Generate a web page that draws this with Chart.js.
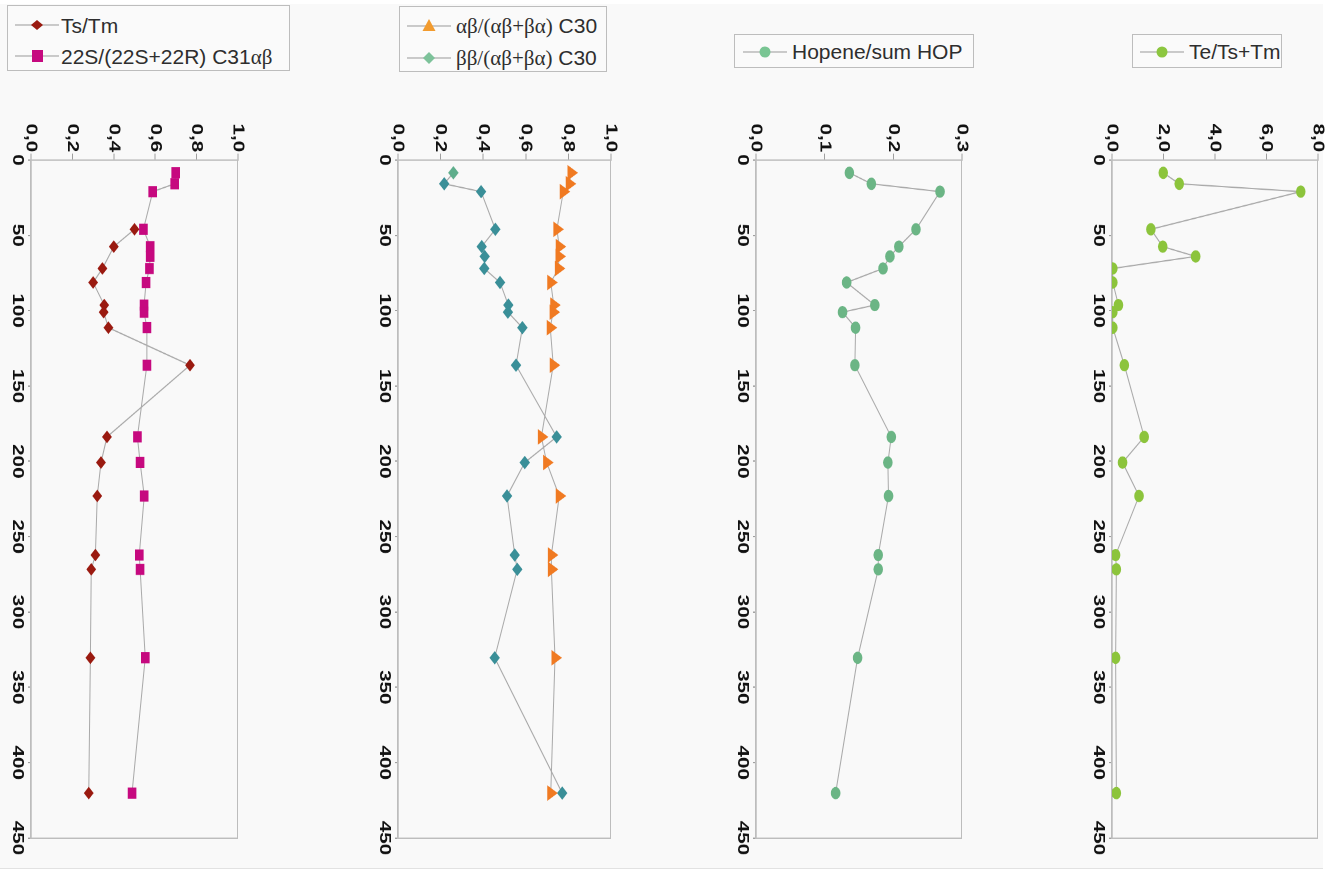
<!DOCTYPE html>
<html>
<head>
<meta charset="utf-8">
<script src="https://cdn.jsdelivr.net/npm/chart.js@4/dist/chart.umd.min.js"></script>
<style>
  html, body { margin: 0; padding: 0; background: #ffffff; }
  body { width: 1341px; height: 875px; position: relative; overflow: hidden; font-family: "Liberation Sans", Arial, sans-serif; }
  #bg { position: absolute; left: 0; top: 4px; width: 1323px; height: 864px; background: #f9f9f9; border-bottom: 1px solid #e2e2e2; }
  .wrap { position: absolute; transform-origin: 0 0; }
  .legend { position: absolute; border: 1px solid #bdbdbd; background: #fafafa; box-sizing: border-box; }
  .legend svg { position: absolute; }
  .legend span { position: absolute; font-size: 21px; line-height: 24px; color: #2e2e2e; white-space: nowrap; }
  .gr { font-family: "Liberation Serif", "Times New Roman", serif; }
</style>
</head>
<body>
<div id="bg"></div>

<!-- legends -->
<div class="legend" style="left:7px;top:5px;width:283px;height:66px;">
  <svg style="left:7px;top:9px" width="44" height="20"><line x1="0" y1="10" x2="44" y2="10" stroke="#999" stroke-width="1"/><polygon points="22,5 28,10 22,15 16,10" fill="#9a1a10"/></svg>
  <span style="left:53px;top:8px">Ts/Tm</span>
  <svg style="left:7px;top:40px" width="44" height="20"><line x1="0" y1="10" x2="44" y2="10" stroke="#999" stroke-width="1"/><rect x="17" y="4" width="11" height="12" fill="#c6097f"/></svg>
  <span style="left:53px;top:39px">22S/(22S+22R) C31<span class="gr" style="position:static">αβ</span></span>
</div>

<div class="legend" style="left:399px;top:6px;width:208px;height:66px;">
  <svg style="left:7px;top:9px" width="44" height="20"><line x1="0" y1="10" x2="44" y2="10" stroke="#999" stroke-width="1"/><polygon points="22,3 28.5,15 15.5,15" fill="#f29b2e"/></svg>
  <span style="left:56px;top:7px"><span class="gr" style="position:static">αβ/(αβ+βα)</span> C30</span>
  <svg style="left:7px;top:41px" width="44" height="20"><line x1="0" y1="10" x2="44" y2="10" stroke="#999" stroke-width="1"/><polygon points="22,4 28,10 22,16 16,10" fill="#7dc29a"/></svg>
  <span style="left:56px;top:39px"><span class="gr" style="position:static">ββ/(αβ+βα)</span> C30</span>
</div>

<div class="legend" style="left:734px;top:34px;width:240px;height:34px;">
  <svg style="left:8px;top:7px" width="44" height="20"><line x1="0" y1="10" x2="44" y2="10" stroke="#999" stroke-width="1"/><circle cx="22" cy="10" r="5.5" fill="#79c593"/></svg>
  <span style="left:57px;top:5px">Hopene/sum HOP</span>
</div>

<div class="legend" style="left:1132px;top:34px;width:150px;height:34px;">
  <svg style="left:7px;top:7px" width="44" height="20"><line x1="0" y1="10" x2="44" y2="10" stroke="#999" stroke-width="1"/><circle cx="22" cy="10" r="5.5" fill="#8cc63f"/></svg>
  <span style="left:56px;top:5px">Te/Ts+Tm</span>
</div>

<div class="wrap" id="w0"><canvas id="c0"></canvas></div>
<div class="wrap" id="w1"><canvas id="c1"></canvas></div>
<div class="wrap" id="w2"><canvas id="c2"></canvas></div>
<div class="wrap" id="w3"><canvas id="c3"></canvas></div>

<script>
// ---- data (depth in cm) ----
const depth = [8.5, 15.8, 21, 46, 57.5, 64, 72, 81.3, 96.3, 101, 111.3, 136.2, 183.8, 200.8, 223, 262.2, 271.7, 330.4, 420.2];

const tsTm   = [null, null, null, 0.50, 0.40, null, 0.345, 0.30, 0.354, 0.351, 0.374, 0.768, 0.367, 0.338, 0.32, 0.311, 0.291, 0.287, 0.279];
const c31S   = [0.699, 0.694, 0.588, 0.543, 0.576, 0.576, 0.572, 0.556, 0.546, 0.546, 0.56, 0.56, 0.514, 0.527, 0.547, 0.523, 0.527, 0.552, 0.488];
const abC30  = [0.812, 0.804, 0.776, 0.746, 0.757, 0.756, 0.753, 0.717, 0.731, 0.728, 0.715, 0.729, 0.673, 0.698, 0.757, 0.72, 0.72, 0.737, 0.717];
const bbC30  = [0.26, 0.217, 0.39, 0.457, 0.393, 0.407, 0.405, 0.479, 0.518, 0.516, 0.584, 0.554, 0.745, 0.595, 0.512, 0.548, 0.56, 0.454, 0.771];
const hopene = [0.136, 0.168, 0.268, 0.233, 0.208, 0.195, 0.185, 0.132, 0.173, 0.126, 0.145, 0.144, 0.197, 0.192, 0.193, 0.178, 0.178, 0.148, 0.116];
const teTsTm = [1.99, 2.61, 7.33, 1.51, 1.97, 3.25, 0.03, 0.03, 0.25, 0.03, 0.03, 0.48, 1.25, 0.41, 1.05, 0.14, 0.17, 0.14, 0.17];

// ---- tick labels ----
const depthTicks = [0, 50, 100, 150, 200, 250, 300, 350, 400, 450];
const ratioTicks = [0, 0.2, 0.4, 0.6, 0.8, 1.0];
const hopTicks   = [0, 0.1, 0.2, 0.3];
const teTicks    = [0, 2, 4, 6, 8];

function pts(vals) {
  return depth.map((d, i) => ({ x: d, y: vals[i] })).filter(p => p.y !== null);
}
const fmt = v => Number(v).toFixed(1).replace('.', ',');

const frame = {
  id: 'frame',
  beforeDatasetsDraw(chart) {
    const { ctx, chartArea: a } = chart;
    ctx.save();
    ctx.strokeStyle = '#bdbdbd';
    ctx.lineWidth = 1;
    ctx.strokeRect(Math.round(a.left) + 0.5, Math.round(a.top) + 0.5, Math.round(a.right - a.left), Math.round(a.bottom - a.top));
    ctx.restore();
  }
};

const W = 600, TOP = 100, S = 775 / 600;
const yW = 60 / S, padR = W - 738 / S;

function ds(label, vals, color, style, radius, extra) {
  return Object.assign({
    label, data: pts(vals), showLine: true,
    borderColor: '#a9a9a9', borderWidth: 1,
    pointStyle: style, pointRadius: radius, pointHoverRadius: radius,
    pointBackgroundColor: color, pointBorderColor: color, pointBorderWidth: 1
  }, extra || {});
}

const panels = [
  { L: 0, H: 250, xH: 31, top: 12, max: 1, ticks: ratioTicks,
    datasets: [ds('Ts/Tm', tsTm, '#9a1a10', 'rectRot', 4.2),
               ds('22S/(22S+22R) C31αβ', c31S, '#c6097f', 'rect', 5.4)] },
  { L: 360, H: 260, xH: 38, top: 9, max: 1, ticks: ratioTicks,
    datasets: [ds('αβ/(αβ+βα) C30', abC30, '#f07a22', 'triangle', 6),
               ds('ββ/(αβ+βα) C30', bbC30, '#3a8f98', 'rectRot', 4.5,
                  { pointBackgroundColor: depth.map((d, i) => i === 0 ? '#5fae8c' : '#3a8f98'),
                    pointBorderColor: depth.map((d, i) => i === 0 ? '#5fae8c' : '#3a8f98') })] },
  { L: 720, H: 255, xH: 36, top: 13, max: 0.3, ticks: hopTicks,
    datasets: [ds('Hopene/sum HOP', hopene, '#6bb585', 'circle', 4.3)] },
  { L: 1075, H: 260, xH: 37, top: 17, max: 8, ticks: teTicks,
    datasets: [ds('Te/Ts+Tm', teTsTm, '#8cc43c', 'circle', 4.3)] }
];

const tickFont = { family: '"Liberation Sans", Arial, sans-serif', size: 16, weight: 'bold' };

panels.forEach((p, i) => {
  const w = document.getElementById('w' + i);
  w.style.left = p.L + 'px';
  w.style.top = TOP + 'px';
  w.style.width = W + 'px';
  w.style.height = p.H + 'px';
  w.style.transform = `translate(${p.H}px,0) rotate(90deg) scale(${S},1)`;
  const c = document.getElementById('c' + i);
  c.width = W; c.height = p.H;
  c.style.width = W + 'px'; c.style.height = p.H + 'px';

  new Chart(c, {
    type: 'scatter',
    data: { datasets: p.datasets },
    options: {
      responsive: false,
      devicePixelRatio: 2,
      animation: false,
      events: [],
      layout: { padding: { left: 0, right: padR, top: p.top, bottom: 0 } },
      plugins: { legend: { display: false }, tooltip: { enabled: false } },
      scales: {
        x: {
          type: 'linear', position: 'bottom', min: 0, max: 450,
          afterBuildTicks: s => { s.ticks = depthTicks.map(v => ({ value: v })); },
          afterFit: s => { s.height = p.xH; s.paddingLeft = 0; s.paddingRight = 0; },
          ticks: { font: tickFont, color: '#111', padding: 1, maxRotation: 0, minRotation: 0, autoSkip: false,
                   callback: v => String(v) },
          grid: { display: true, drawOnChartArea: false, drawTicks: true, tickLength: 3, color: '#a0a0a0' },
          border: { display: true, color: '#a0a0a0' }
        },
        y: {
          type: 'linear', position: 'left', min: 0, max: p.max,
          afterBuildTicks: s => { s.ticks = p.ticks.map(v => ({ value: v })); },
          afterFit: s => { s.width = yW; s.paddingTop = 0; s.paddingBottom = 0; },
          ticks: { font: tickFont, color: '#111', padding: 1, autoSkip: false, callback: v => fmt(v) },
          grid: { display: true, drawOnChartArea: false, drawTicks: true, tickLength: 5, color: '#a0a0a0' },
          border: { display: true, color: '#a0a0a0' }
        }
      }
    },
    plugins: [frame]
  });
});
</script>
</body>
</html>
